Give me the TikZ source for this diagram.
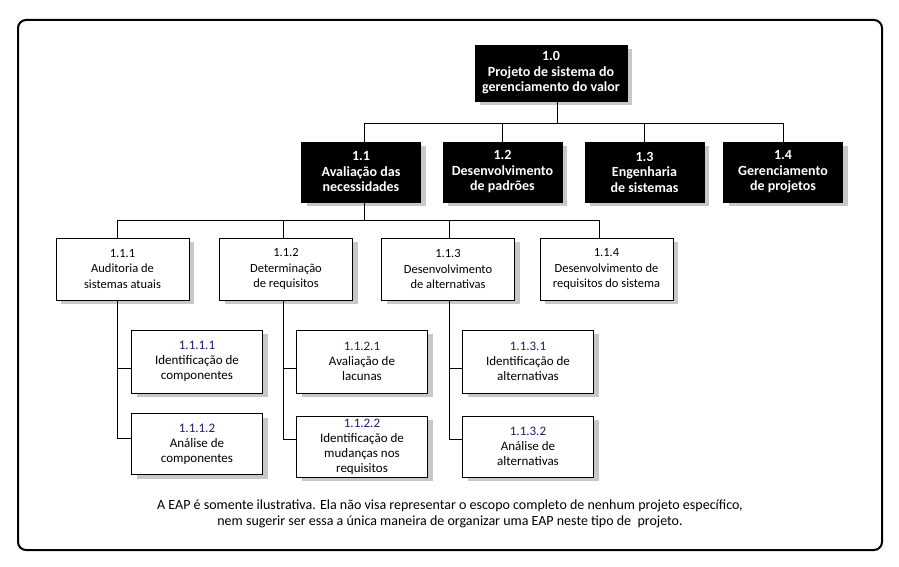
\documentclass[tikz,border=0pt]{standalone}
\usepackage{fontspec}
\setmainfont{Carlito}
\usetikzlibrary{shadows}
\definecolor{shadowgray}{HTML}{C8C8C8}
\definecolor{numblue}{HTML}{1F1F6B}
\begin{document}
\begin{tikzpicture}[x=1pt,y=-1pt,
  base/.style={rectangle, draw=black, line width=0.8pt, align=center, inner sep=0pt,
    drop shadow={shadow xshift=5pt, shadow yshift=-4pt, fill=shadowgray, opacity=1}},
  darkbox/.style={base, fill=black, text=white, font=\fontsize{14}{15.5}\selectfont\bfseries,
    minimum width=119pt, minimum height=60pt},
  topbox/.style={darkbox, minimum width=152pt, minimum height=56pt},
  lthree/.style={base, fill=white, font=\fontsize{12.5}{15.5}\selectfont,
    minimum width=133pt, minimum height=62pt},
  lfour/.style={base, fill=white, font=\fontsize{13}{15}\selectfont,
    minimum width=131pt, minimum height=63pt},
  lfourb/.style={lfour, minimum height=61pt},
  conn/.style={draw=black, line width=0.8pt},
  num/.style={text=numblue}
]
\useasboundingbox (0,0) rectangle (899,567);
\draw[line width=2pt, rounded corners=8pt] (18,20) rectangle (882,550);

% level 1
\node[topbox] (n10) at (551,73) {1.0\\Projeto de sistema do\\gerenciamento do valor};
% level 2
\node[darkbox] (n11) at (361,172) {1.1\\Avaliação das\\necessidades};
\node[darkbox] (n12) at (502.5,172) {1.2\\Desenvolvimento\\de padrões};
\node[darkbox] (n13) at (644.5,172) {1.3\\Engenharia\\de sistemas};
\node[darkbox] (n14) at (783,172) {1.4\\Gerenciamento\\de projetos};
% level 3
\node[lthree] (n111) at (122.5,269) {1.1.1\\Auditoria de\\sistemas atuais};
\node[lthree] (n112) at (286,269) {1.1.2\\Determinação\\de requisitos};
\node[lthree] (n113) at (448,269) {1.1.3\\Desenvolvimento\\de alternativas};
\node[lthree] (n114) at (606.5,269) {1.1.4\\Desenvolvimento de\\requisitos do sistema};
% level 4
\node[lfour] (n1111) at (197,361.5) {{\color{numblue}1.1.1.1}\\Identificação de\\componentes};
\node[lfourb] (n1112) at (197,444) {{\color{numblue}1.1.1.2}\\Análise de\\componentes};
\node[lfour] (n1121) at (362,361.5) {{\color{numblue}1.1.2.1}\\Avaliação de\\lacunas};
\node[lfourb] (n1122) at (362,446.5) {{\color{numblue}1.1.2.2}\\Identificação de\\mudanças nos\\requisitos};
\node[lfour] (n1131) at (528,361.5) {{\color{numblue}1.1.3.1}\\Identificação de\\alternativas};
\node[lfourb] (n1132) at (528,446.5) {{\color{numblue}1.1.3.2}\\Análise de\\alternativas};

% connectors level 1 -> 2
\draw[conn] ([xshift=6pt]n10.south) -- ++(0,22);
\draw[conn] ([xshift=3pt]n11.north) |- (n14.north |- 0,123) -- (n14.north);
\draw[conn] (n12.north) -- (n12.north |- 0,123);
\draw[conn] (n13.north) -- (n13.north |- 0,123);
% connectors level 2 -> 3
\draw[conn] ([xshift=3pt]n11.south) -- ++(0,18);
\draw[conn] ([xshift=-5.5pt]n111.north) |- ([xshift=-7.5pt]n114.north |- 0,220) -- ([xshift=-7.5pt]n114.north);
\draw[conn] ([xshift=-3pt]n112.north) -- ++(0,-18);
\draw[conn] ([xshift=1.5pt]n113.north) -- ++(0,-18);
% connectors level 3 -> 4
\draw[conn] ([xshift=-5.5pt]n111.south) |- ([yshift=6pt]n1112.west);
\draw[conn] ([yshift=-6.5pt]n1111.west) -- ++(-14.5,0);
\draw[conn] ([xshift=-3pt]n112.south) |- ([yshift=7.5pt]n1122.west);
\draw[conn] ([yshift=-6.5pt]n1121.west) -- ++(-13.5,0);
\draw[conn] ([xshift=1.5pt]n113.south) |- ([yshift=7.5pt]n1132.west);
\draw[conn] ([yshift=-6.5pt]n1131.west) -- ++(-13,0);

% footnote
\node[align=center, font=\fontsize{14}{16}\selectfont] (note) at (450,514)
  {A EAP é somente ilustrativa. Ela não visa representar o escopo completo de nenhum projeto específico,\\
   nem sugerir ser essa a única maneira de organizar uma EAP neste tipo de\ \ projeto.};
\end{tikzpicture}
\end{document}
